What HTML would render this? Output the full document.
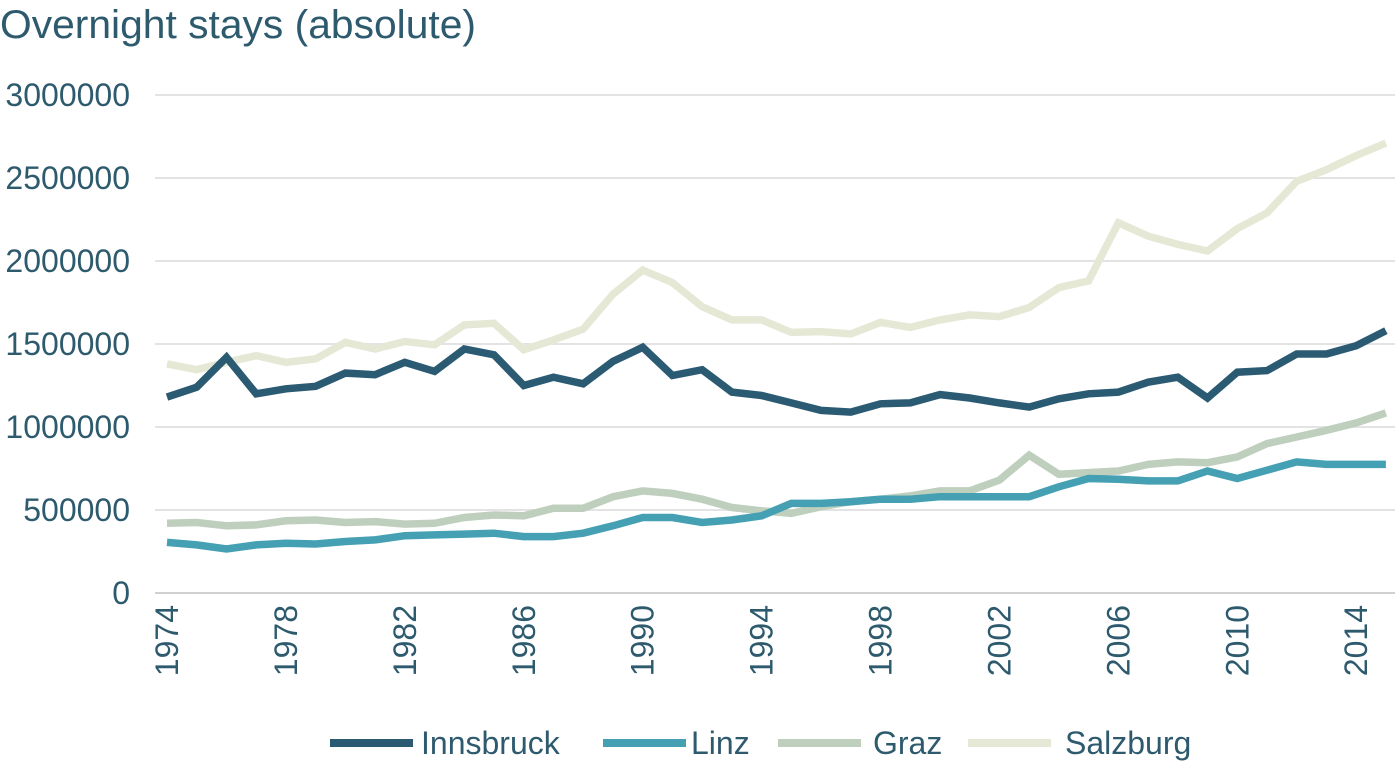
<!DOCTYPE html>
<html><head><meta charset="utf-8"><style>
body{margin:0;background:#fff;width:1400px;height:763px;overflow:hidden;font-family:"Liberation Sans",sans-serif;}
</style></head><body>
<svg id="chart" width="1400" height="763" viewBox="0 0 1400 763">
<text x="0" y="38" font-size="40" fill="#2e5a6e" font-family="Liberation Sans, sans-serif" textLength="476" lengthAdjust="spacingAndGlyphs">Overnight stays (absolute)</text>
<g id="grid"></g><g id="ylabels"></g><g id="xlabels"></g><g id="series"></g><g id="legend"></g>
</svg>
<script>
const years=[];for(let y=1974;y<=2015;y++)years.push(y);
const yTicks=[0,500000,1000000,1500000,2000000,2500000,3000000];
const xTickYears=[1974,1978,1982,1986,1990,1994,1998,2002,2006,2010,2014];
const seriesNames=["Innsbruck","Linz","Graz","Salzburg"];
const seriesColors=["#2b5a73","#44a0b2","#bfcfbe","#e6e8d6"];
const innsbruck=[1180,1240,1420,1200,1230,1245,1325,1315,1390,1335,1470,1435,1250,1300,1260,1395,1480,1310,1345,1210,1190,1145,1100,1090,1140,1145,1195,1175,1145,1120,1170,1200,1210,1270,1300,1175,1330,1340,1440,1440,1490,1580];
const linz=[305,290,265,290,300,295,310,320,345,350,355,360,340,340,360,405,455,455,425,440,465,540,540,550,565,565,580,580,580,580,640,690,685,675,675,735,690,740,790,775,775,775];
const graz=[420,425,405,410,435,440,425,430,415,420,455,470,465,510,510,580,615,600,565,515,495,480,520,550,565,585,615,615,680,830,715,725,735,775,790,785,820,900,940,980,1025,1085];
const salzburg=[1380,1345,1390,1430,1390,1410,1510,1470,1515,1495,1615,1625,1465,1525,1590,1800,1945,1870,1725,1645,1645,1570,1575,1560,1630,1600,1645,1675,1665,1720,1840,1880,2230,2150,2100,2060,2195,2290,2480,2550,2635,2710];
const allSeries=[innsbruck,linz,graz,salzburg];
const NS="http://www.w3.org/2000/svg";
const X=y=>167+(y-1974)*29.73;
const Y=v=>593-v*0.000166;
function mk(tag,attrs,parent){const e=document.createElementNS(NS,tag);for(const k in attrs)e.setAttribute(k,attrs[k]);parent.appendChild(e);return e;}
const grid=document.getElementById('grid'),yl=document.getElementById('ylabels'),xl=document.getElementById('xlabels'),sg=document.getElementById('series'),lg=document.getElementById('legend');
yTicks.forEach(t=>{
 const l=mk('line',{x1:155,x2:1395,y1:Y(t),y2:Y(t),stroke:t===0?'#d0d0d0':'#e3e3e3','stroke-width':2},grid);
 
 
 const tx=mk('text',{x:130,y:Y(t)+11,'text-anchor':'end','font-size':32,fill:'#2e5a6e'},yl);
 tx.textContent=t;
 
 
});
xTickYears.forEach(yr=>{
 const x=X(yr)+11;
 const tx=mk('text',{x:x,y:605,'text-anchor':'end','font-size':32,fill:'#2e5a6e',transform:`rotate(-90 ${x} 605)`},xl);
 tx.textContent=yr;
 
 
});
[3,2,1,0].forEach(i=>{
 const pts=allSeries[i].map((v,j)=>X(years[j]).toFixed(1)+','+Y(v*1000).toFixed(1)).join(' ');
 const p=mk('polyline',{points:pts,fill:'none',stroke:seriesColors[i],'stroke-width':7.5,'stroke-linejoin':'miter'},sg);
 
 
});
const lx=[330,603,778,968];
const tx0=[421,691,873,1065];
seriesNames.forEach((n,i)=>{
 const l=mk('line',{x1:lx[i],x2:lx[i]+83,y1:743,y2:743,stroke:seriesColors[i],'stroke-width':8},lg);
 
 
 const t=mk('text',{x:tx0[i],y:754,'font-size':32,fill:'#2e5a6e'},lg);
 t.textContent=n;
 
 
});
</script>
</body></html>
